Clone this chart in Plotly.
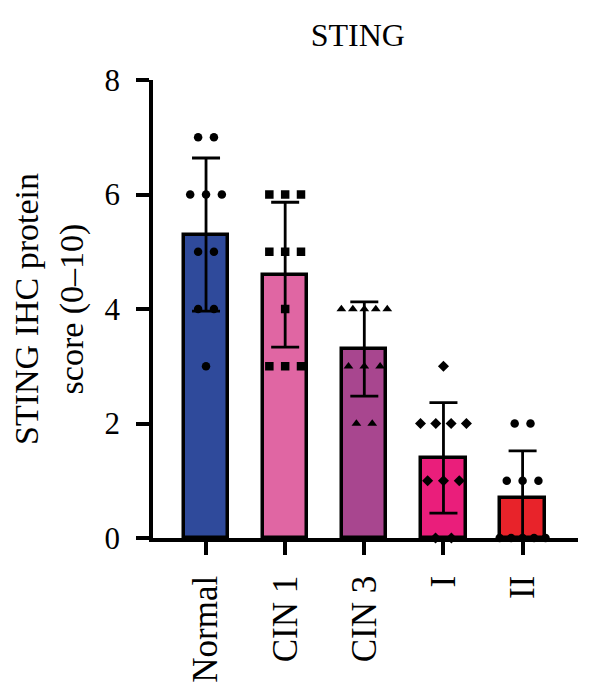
import numpy as np
import plotly.graph_objects as go

categories = ["Normal", "CIN 1", "CIN 3", "I", "II"]
values_normal = [7, 7, 6, 6, 6, 5, 5, 4, 4, 3]
values_cin1 = [6, 6, 6, 5, 5, 5, 4, 3, 3, 3]
values_cin3 = [4, 4, 4, 4, 4, 3, 3, 3, 2, 2]
values_i = [3, 2, 2, 2, 2, 1, 1, 1, 0, 0]
values_ii = [2, 2, 1, 1, 1, 0, 0, 0, 0, 0]
groups = [values_normal, values_cin1, values_cin3, values_i, values_ii]
bar_colors = ["#2F4A9B", "#E066A3", "#A8468F", "#EA1E7B", "#E8232A"]
symbols = ["circle", "square", "triangle-up", "diamond", "circle"]
y_ticks = [0, 2, 4, 6, 8]

means = [float(np.mean(g)) for g in groups]
sds = [float(np.std(g, ddof=1)) for g in groups]

FONT = "Liberation Serif"
fig = go.Figure()
fig.add_trace(go.Bar(
    x=list(range(len(categories))), y=means,
    width=0.56,
    marker=dict(color=bar_colors, line=dict(color="black", width=3.5)),
    error_y=dict(type="data", array=sds, visible=True, color="black",
                 thickness=2.8, width=14),
    showlegend=False,
))

# scatter points, spread horizontally within each value row
for i, g in enumerate(groups):
    xs, ys = [], []
    for v in sorted(set(g), reverse=True):
        k = g.count(v)
        step = min(0.2, 0.58 / (k - 1)) if k > 1 else 0
        for j in range(k):
            xs.append(i + (j - (k - 1) / 2) * step)
            ys.append(v)
    fig.add_trace(go.Scatter(
        x=xs, y=ys, mode="markers", cliponaxis=False,
        marker=dict(symbol=symbols[i], size=8.5, color="black", line=dict(width=0)),
        showlegend=False,
    ))

fig.update_layout(
    width=600, height=698,
    margin=dict(l=153, r=22, t=80, b=160),
    paper_bgcolor="white", plot_bgcolor="white",
    font=dict(family=FONT, size=29, color="black"),
    title=dict(text="STING", x=0.482, xref="paper", xanchor="center",
               y=0.95, yanchor="middle", font=dict(family=FONT, size=32)),
    bargap=0,
)
fig.update_xaxes(
    range=[-0.67, 4.7], tickvals=list(range(len(categories))), ticktext=categories,
    tickangle=-90, showline=True, linecolor="black", linewidth=3.5,
    ticks="outside", ticklen=13, tickwidth=3.5, tickcolor="black",
    showgrid=False, zeroline=False, tickfont=dict(family=FONT, size=35),
    ticklabelstandoff=7,
)
fig.update_yaxes(
    range=[0, 8], tickvals=y_ticks, showline=True, linecolor="black", linewidth=3.5,
    ticks="outside", ticklen=13, tickwidth=3.5, tickcolor="black",
    showgrid=False, zeroline=False, tickfont=dict(family=FONT, size=31),
    ticklabelstandoff=10,
    title=dict(text="STING IHC protein<br>score (0–10)", standoff=12,
               font=dict(family=FONT, size=34)),
)
fig.write_html("out.html")
